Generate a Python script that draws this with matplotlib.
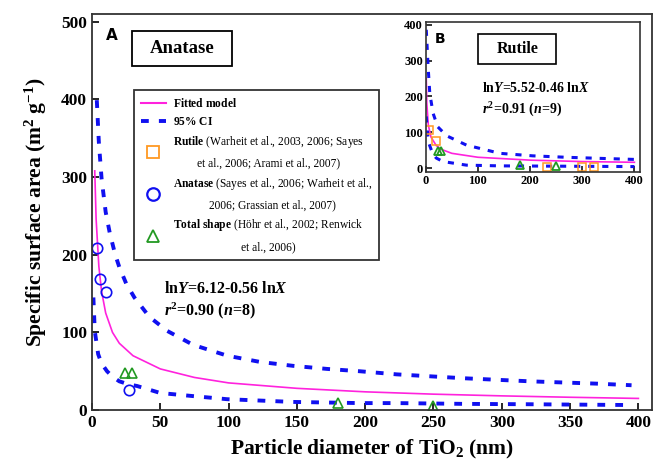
import matplotlib
matplotlib.use("Agg")
import matplotlib.pyplot as plt
from matplotlib.lines import Line2D
from matplotlib.patches import Rectangle

plt.rcParams['font.family'] = ['Liberation Serif', 'DejaVu Serif']
plt.rcParams['mathtext.fontset'] = 'custom'
plt.rcParams['mathtext.rm'] = 'Liberation Serif:bold'
plt.rcParams['mathtext.bf'] = 'Liberation Serif:bold'
plt.rcParams['mathtext.it'] = 'Liberation Serif:italic:bold'
if 'mathtext.bfit' in plt.rcParams:
    plt.rcParams['mathtext.bfit'] = 'Liberation Serif:italic:bold'

# ---- data ----
# panel A (anatase)
fit_a_x = [2, 3, 5, 7, 10, 15, 20, 30, 50, 75, 100, 150, 200, 250, 300, 350, 400]
fit_a_y = [308, 246, 185, 153, 125, 100, 86, 70, 53, 42, 35, 28, 23.5, 20.5, 18.3, 16.5, 15]
up_a_x = [3.5, 5, 7, 10, 13, 17, 20, 25, 31, 42, 55, 74, 99, 123, 147, 172, 196, 223, 272, 321, 370, 395]
up_a_y = [399, 345, 298, 255, 228, 200, 184, 163, 145, 120, 102, 84, 70, 62, 57, 53, 50, 46, 41, 37, 34, 32]
lo_a_x = [1, 2, 4.5, 7, 11, 15, 20, 27, 33, 50, 74, 99, 147, 196, 223, 272, 321, 394]
lo_a_y = [145, 102, 72, 60, 50, 43, 37, 33, 31, 22, 18, 14, 10.5, 9, 9, 8, 7.5, 6.5]
anatase_x = [3.4, 5.9, 10.3, 27]
anatase_y = [209, 169, 152, 26]
total_x = [24, 29, 180, 250]
total_y = [48, 48, 9, 5]

# panel B (rutile)
fit_b_x = [1, 2, 5, 10, 20, 30, 50, 100, 200, 300, 400]
fit_b_y = [250, 181, 119, 86.5, 63, 52, 41, 30, 22, 18, 16]
up_b_x = [1, 4.5, 7.7, 14, 23, 40, 78, 142, 205, 269, 333, 400]
up_b_y = [386, 283, 209, 153, 115, 90, 64, 41, 34, 30, 27, 24]
lo_b_x = [1, 3, 6, 13, 20, 33, 78, 142, 269, 400]
lo_b_y = [144, 100, 69, 41, 28, 18, 8, 6, 5, 4]
rutile_x = [6, 20, 232, 300, 322]
rutile_y = [106, 75, 3, 2, 2]

pink = '#FF22DD'
blue = '#1010F0'
orange = '#FF9922'
green = '#229922'
dash = (0, (2, 2.6))

fig = plt.figure(figsize=(6.54, 4.66), dpi=100)
ax = fig.add_axes([0.1407, 0.120, 0.8563, 0.850])

ax.plot(fit_a_x, fit_a_y, color=pink, lw=1.2)
ax.plot(up_a_x, up_a_y, color=blue, lw=2.8, linestyle=dash)
ax.plot(lo_a_x, lo_a_y, color=blue, lw=2.8, linestyle=dash)
ax.plot(anatase_x, anatase_y, 'o', ms=7.5, mfc='none', mec=blue, mew=1.2)
ax.plot(total_x, total_y, '^', ms=7.5, mfc='none', mec=green, mew=1.2)

ax.set_xlim(0, 410)
ax.set_ylim(0, 510)
ax.set_xticks([0, 50, 100, 150, 200, 250, 300, 350, 400])
ax.set_yticks([0, 100, 200, 300, 400, 500])
ax.tick_params(direction='in', length=5, width=1.2, labelsize=12.5)
for lab in ax.get_xticklabels() + ax.get_yticklabels():
    lab.set_fontweight('bold')
for s in ax.spines.values():
    s.set_linewidth(1.3)
    s.set_color('#333333')

ax.set_xlabel(r'Particle diameter of TiO$_{\mathbf{2}}$ (nm)', fontsize=15.5, fontweight='bold', labelpad=5)
ax.set_ylabel(r'Specific surface area (m$^{\mathbf{2}}$ g$^{\mathbf{-1}}$)', fontsize=15.5, fontweight='bold', labelpad=9)

ax.text(0.025, 0.965, 'A', transform=ax.transAxes, fontsize=11, fontweight='bold',
        family='DejaVu Sans', va='top', ha='left')
ax.add_patch(Rectangle((0.0714, 0.869), 0.179, 0.088, transform=ax.transAxes,
                       fill=False, lw=1.3, edgecolor='black'))
ax.text(0.161, 0.913, 'Anatase', transform=ax.transAxes, fontsize=13.5, fontweight='bold',
        ha='center', va='center')

ax.text(53, 156, r'ln$\mathit{Y}$=6.12-0.56 ln$\mathit{X}$', fontsize=11.5, fontweight='bold', va='center')
ax.text(53, 128, r'$\mathit{r}^{2}$=0.90 ($\mathit{n}$=8)', fontsize=11.5, fontweight='bold', va='center')

handles = [
    Line2D([], [], color=pink, lw=1.5),
    Line2D([], [], color=blue, lw=2.8, linestyle=dash),
    Line2D([], [], marker='s', ls='none', ms=9, mfc='none', mec=orange, mew=1.3),
    Line2D([], [], marker='o', ls='none', ms=9, mfc='none', mec=blue, mew=1.6),
    Line2D([], [], marker='^', ls='none', ms=9, mfc='none', mec=green, mew=1.3),
]
labels = [
    r'$\mathbf{Fitted\ model}$',
    r'$\mathbf{95\%\ CI}$',
    r'$\mathbf{Rutile}$ (Warheit et al., 2003, 2006; Sayes' + '\n' + 'et al., 2006; Arami et al., 2007)',
    r'$\mathbf{Anatase}$ (Sayes et al., 2006; Warheit et al.,' + '\n' + '2006; Grassian et al., 2007)',
    r'$\mathbf{Total\ shape}$ (H' + '\u00f6' + 'hr et al., 2002; Renwick' + '\n' + 'et al., 2006)',
]
leg = ax.legend(handles, labels, loc='upper left', bbox_to_anchor=(0.064, 0.822),
                fontsize=8.3, frameon=True, fancybox=False, handlelength=2.2,
                handletextpad=0.6, labelspacing=0.5, borderpad=0.6)
leg.get_frame().set_edgecolor('black')
leg.get_frame().set_linewidth(1.3)
for t in leg.get_texts():
    t.set_multialignment('center')
    t.set_linespacing(1.9)

# inset B
axb = fig.add_axes([0.651, 0.631, 0.327, 0.322])
axb.plot(fit_b_x, fit_b_y, color=pink, lw=1.2)
axb.plot(up_b_x, up_b_y, color=blue, lw=2.2, linestyle=dash)
axb.plot(lo_b_x, lo_b_y, color=blue, lw=2.2, linestyle=dash)
axb.plot(rutile_x, rutile_y, 's', ms=5.5, mfc='none', mec=orange, mew=1.1)
axb.plot(total_x, total_y, '^', ms=5.5, mfc='none', mec=green, mew=1.3)
axb.set_xlim(0, 410)
axb.set_ylim(-11, 408)
axb.set_xticks([0, 100, 200, 300, 400])
axb.set_yticks([0, 100, 200, 300, 400])
axb.tick_params(direction='in', length=4, width=1.1, labelsize=9, pad=2)
for lab in axb.get_xticklabels() + axb.get_yticklabels():
    lab.set_fontweight('bold')
for s in axb.spines.values():
    s.set_linewidth(1.2)
    s.set_color('#333333')
axb.text(0.04, 0.93, 'B', transform=axb.transAxes, fontsize=10, fontweight='bold',
         family='DejaVu Sans', va='top', ha='left')
axb.add_patch(Rectangle((0.245, 0.72), 0.365, 0.2, transform=axb.transAxes,
                        fill=False, lw=1.2, edgecolor='black'))
axb.text(0.428, 0.82, 'Rutile', transform=axb.transAxes, fontsize=11.5, fontweight='bold',
         ha='center', va='center')
axb.text(107, 224, r'ln$\mathit{Y}$=5.52-0.46 ln$\mathit{X}$', fontsize=10, fontweight='bold', va='center')
axb.text(107, 162, r'$\mathit{r}^{2}$=0.91 ($\mathit{n}$=9)', fontsize=10, fontweight='bold', va='center')

fig.savefig('out.png', dpi=100)
